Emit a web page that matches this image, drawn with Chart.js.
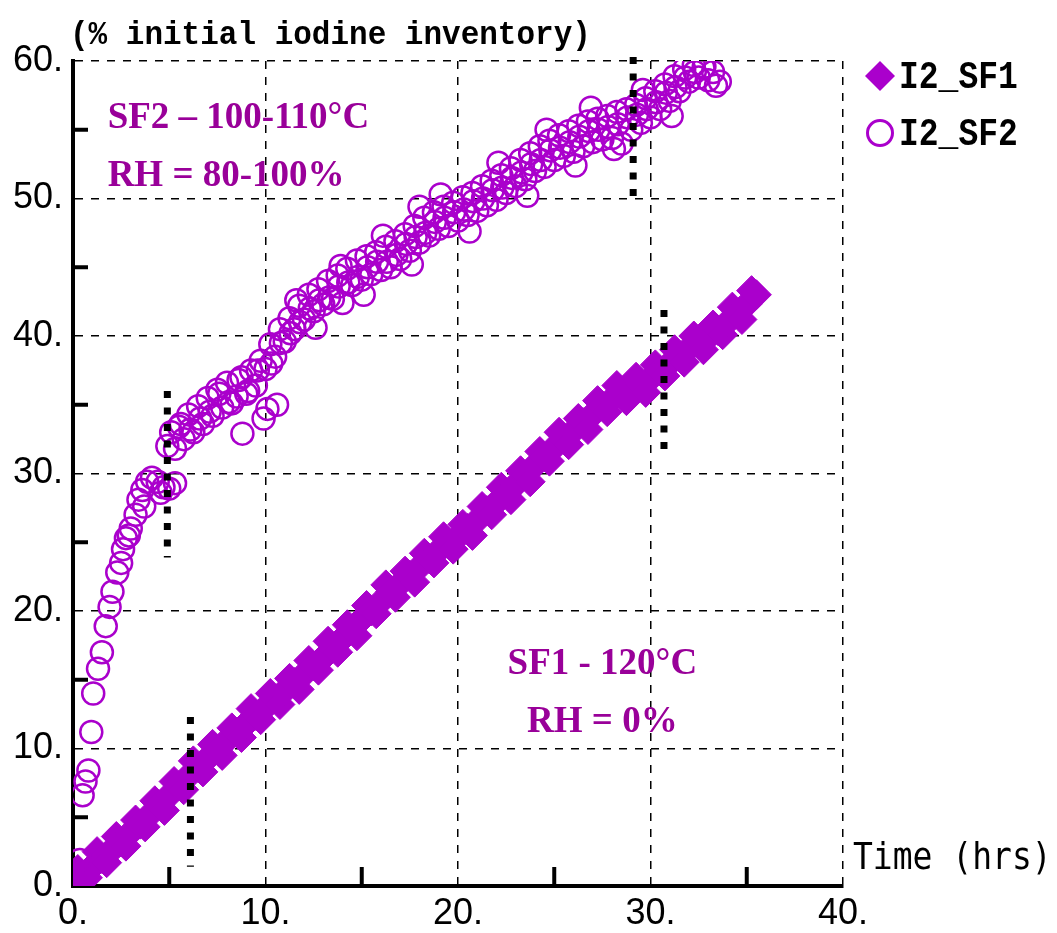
<!DOCTYPE html>
<html><head><meta charset="utf-8">
<script src="https://cdn.jsdelivr.net/npm/chart.js@4.4.1/dist/chart.umd.min.js"></script>
<style>html,body{margin:0;padding:0;background:#fff}#wrap{width:1057px;height:933px;position:relative}</style>
</head><body><div id="wrap"><canvas id="c"></canvas></div>
<script>
// ---------- data ----------
const yAxisTitle = '(% initial iodine inventory)';
const xAxisTitle = 'Time (hrs)';
const seriesNames = ['I2_SF1', 'I2_SF2'];
const xTickValues = [0, 10, 20, 30, 40];
const xTickLabels = ['0.', '10.', '20.', '30.', '40.'];
const yTickValues = [0, 10, 20, 30, 40, 50, 60];
const yTickLabels = ['0.', '10.', '20.', '30.', '40.', '50.', '60.'];

const sf1Time = [0,0.25,0.5,0.75,1,1.25,1.5,1.75,2,2.25,2.5,2.75,3,3.25,3.5,3.75,4,4.25,4.5,4.75,5,5.25,5.5,5.75,6,6.25,6.5,6.75,7,7.25,7.5,7.75,8,8.25,8.5,8.75,9,9.25,9.5,9.75,10,10.25,10.5,10.75,11,11.25,11.5,11.75,12,12.25,12.5,12.75,13,13.25,13.5,13.75,14,14.25,14.5,14.75,15,15.25,15.5,15.75,16,16.25,16.5,16.75,17,17.25,17.5,17.75,18,18.25,18.5,18.75,19,19.25,19.5,19.75,20,20.25,20.5,20.75,21,21.25,21.5,21.75,22,22.25,22.5,22.75,23,23.25,23.5,23.75,24,24.25,24.5,24.75,25,25.25,25.5,25.75,26,26.25,26.5,26.75,27,27.25,27.5,27.75,28,28.25,28.5,28.75,29,29.25,29.5,29.75,30,30.25,30.5,30.75,31,31.25,31.5,31.75,32,32.25,32.5,32.75,33,33.25,33.5,33.75,34,34.25,34.5,34.75,35,35.25,35.5];
const sf1Value = [0.3,1.2,0.8,0.6,1.4,2.5,2.0,1.7,2.6,3.6,3.2,2.9,3.9,4.8,4.5,4.3,5.2,6.2,5.9,5.5,6.6,7.6,7.3,7.0,8.0,9.1,8.6,8.3,9.3,10.3,9.9,9.5,10.6,11.5,11.2,10.8,11.8,12.9,12.4,12.1,13.0,14.0,13.6,13.2,14.2,15.1,14.8,14.3,15.4,16.4,16.0,15.7,16.6,17.8,17.3,17.0,18.0,19.0,18.7,18.2,19.4,20.4,20.0,19.8,20.7,21.9,21.4,21.0,22.0,22.9,22.6,22.1,23.2,24.2,23.8,23.5,24.4,25.4,24.9,24.5,25.4,26.3,26.0,25.5,26.6,27.6,27.3,27.0,27.9,29.0,28.5,28.1,29.2,30.2,29.9,29.4,30.6,31.6,31.2,30.9,31.9,33.0,32.5,32.1,33.1,34.0,33.7,33.2,34.3,35.3,34.9,34.5,35.4,36.4,35.9,35.3,36.2,37.0,36.5,35.9,36.9,37.9,37.5,37.1,38.0,39.0,38.5,38.1,39.1,40.0,39.7,39.0,39.9,40.8,40.4,40.1,41.0,42.1,41.6,41.2,42.3,43.3,43.0];

const sf2Time = [0.35,0.5,0.65,0.8,0.95,1.05,1.3,1.5,1.7,1.9,2.05,2.3,2.5,2.6,2.75,2.9,3.0,3.25,3.4,3.6,3.7,3.85,4.1,4.4,4.55,4.7,5.0,5.3,
  4.9,5.1,5.3,5.5,5.75,6.0,6.25,6.5,6.75,7.0,7.25,7.5,7.75,8.0,8.25,8.5,8.8,8.75,9.0,9.25,9.5,9.75,9.9,10.0,10.1,10.25,10.5,10.6,10.75,11.0,11.25,11.5,11.75,12.0,12.25,12.5,12.75,13.0,13.25,13.5,13.75,14.0,14.25,14.5,14.75,15.0,15.25,15.5,15.75,16.0,16.25,16.5,16.75,17.0,17.25,17.5,17.75,18.0,18.0,18.25,18.5,18.75,19.0,19.25,19.5,19.75,20.0,20.25,20.5,20.75,21.0,21.25,21.5,21.75,22.0,22.25,22.5,22.75,23.0,23.25,23.5,23.75,24.0,24.25,24.5,24.75,25.0,25.25,25.5,25.75,26.0,26.25,26.5,26.75,27.0,27.25,27.5,27.75,28.0,28.25,28.5,28.75,29.0,29.25,29.5,29.75,30.0,30.25,30.5,30.75,31.0,31.25,31.5,31.75,32.0,32.25,32.5,32.75,33.0,33.25,33.6,
  5.6,6.1,6.6,7.1,7.6,8.1,8.6,9.1,9.6,10.3,10.8,11.3,11.8,12.3,12.8,13.3,13.8,14.3,14.8,15.3,15.8,16.3,16.8,17.3,17.8,18.3,18.8,19.3,19.8,20.3,20.8,21.3,21.8,22.3,22.8,23.3,23.8,24.3,24.8,25.3,25.8,26.3,26.8,27.3,27.8,28.3,28.8,29.3,29.8,30.3,30.8,31.3,31.8,32.3,32.8,33.4,
  11.6,13.9,16.1,19.1,22.1,24.6,26.9,29.6,12.6,15.1,17.6,20.6,23.6,26.1,28.1,31.1];
const sf2Value = [1.9,6.6,7.6,8.4,11.2,14.0,15.8,17.0,18.9,20.3,21.4,22.8,23.5,24.5,25.3,25.5,26.0,27.0,28.1,28.8,27.6,29.4,29.7,29.4,28.6,29.0,28.9,29.3,
  32.0,33.0,31.8,33.4,32.5,34.3,33.0,34.9,33.6,35.5,34.2,36.1,34.8,36.6,35.1,35.6,32.9,37.0,35.8,37.5,36.4,38.2,34.0,37.6,34.7,39.4,38.5,35.0,40.5,39.6,41.3,40.5,42.2,41.2,43.0,41.8,43.4,42.3,44.0,42.7,44.4,42.4,44.9,43.7,45.5,44.1,45.8,44.5,46.1,44.8,46.5,45.0,46.9,45.6,47.4,46.2,48.0,46.8,49.4,48.6,47.3,49.0,47.8,49.4,48.0,49.7,48.4,50.1,48.8,50.4,49.1,50.9,49.5,51.3,49.9,51.7,50.4,52.2,50.9,52.8,51.4,53.3,52.0,53.8,52.3,54.2,52.8,54.6,53.1,54.9,53.4,55.3,53.8,55.6,54.1,55.8,54.3,56.0,54.4,56.3,54.0,56.5,55.0,56.8,55.5,57.3,55.9,57.8,56.5,58.3,57.1,58.9,57.8,59.4,58.5,59.7,58.8,59.5,58.6,59.2,58.5,
  33.6,33.2,34.0,34.5,35.8,35.2,36.8,36.0,37.5,38.0,39.5,40.2,41.0,42.0,42.6,42.8,43.6,43.9,44.3,45.0,45.4,45.4,45.9,46.7,47.2,47.5,48.3,48.6,49.0,49.2,49.8,50.0,50.6,50.8,51.5,51.9,52.5,52.8,53.5,53.7,54.1,54.5,54.9,55.0,55.2,55.4,55.9,56.1,56.5,57.0,57.7,58.1,58.8,59.2,59.6,58.2,
  42.6,45.1,47.3,50.3,52.6,55.0,56.6,57.9,40.6,43.0,45.2,47.6,50.2,52.4,53.6,56.0];

const dividerTime = [4.9, 6.1, 29.1, 30.7];
const dividerHigh = [36.0, 12.3, 60.3, 41.9];
const dividerLow = [23.9, 1.4, 49.7, 31.2];

const noteText = ['SF2 \u2013 100-110\u00B0C', 'RH = 80-100%', 'SF1 - 120\u00B0C', 'RH = 0%'];
const noteTime = [1.8, 1.8, 27.5, 27.5];
const noteValue = [55.85, 51.6, 16.15, 11.9];
const noteAlign = ['left', 'left', 'center', 'center'];

// ---------- styles ----------
const PURPLE = '#AA00CC';
const NOTE = '#990099';

function pts(t, v) { return t.map((x, i) => ({x: x, y: v[i]})); }

const datasets = [];
dividerTime.forEach((t, i) => {
  datasets.push({
    type: 'line', label: 'div' + i,
    data: [{x: t, y: dividerHigh[i]}, {x: t, y: dividerLow[i]}],
    borderColor: '#000', borderWidth: 7, borderDash: [7, 9.5], borderCapStyle: 'butt',
    pointRadius: 0, showLine: true, clip: false, order: 0
  });
});
datasets.push({
  label: seriesNames[0], data: pts(sf1Time, sf1Value),
  pointStyle: 'rectRot', pointRadius: 15, backgroundColor: PURPLE, borderColor: PURPLE, borderWidth: 1,
  showLine: false, order: 2
});
datasets.push({
  label: seriesNames[1], data: pts(sf2Time, sf2Value),
  pointStyle: 'circle', pointRadius: 11, backgroundColor: 'rgba(0,0,0,0)', borderColor: PURPLE, borderWidth: 2.5,
  showLine: false, order: 1
});

function txt(ctx, s, x, y, font, color, align, baseline, sy) {
  ctx.save();
  ctx.font = font; ctx.fillStyle = color; ctx.textAlign = align; ctx.textBaseline = baseline;
  ctx.translate(x, y); ctx.scale(1, sy || 1); ctx.fillText(s, 0, 0);
  ctx.restore();
}

const decor = {
  id: 'decor',
  afterDatasetsDraw(chart) {
    const ctx = chart.ctx, xs = chart.scales.x, ys = chart.scales.y, a = chart.chartArea;
    ctx.save();
    ctx.strokeStyle = '#000'; ctx.lineWidth = 4; ctx.lineCap = 'butt';
    xs.ticks.forEach(t => {
      if (xTickValues.indexOf(t.value) < 0) {
        const px = xs.getPixelForValue(t.value);
        ctx.beginPath(); ctx.moveTo(px, a.bottom); ctx.lineTo(px, a.bottom - 19); ctx.stroke();
      }
    });
    ys.ticks.forEach(t => {
      if (yTickValues.indexOf(t.value) < 0) {
        const py = ys.getPixelForValue(t.value);
        ctx.beginPath(); ctx.moveTo(a.left, py); ctx.lineTo(a.left + 15, py); ctx.stroke();
      }
    });
    ctx.restore();
  },
  afterDraw(chart) {
    const ctx = chart.ctx, xs = chart.scales.x, ys = chart.scales.y, a = chart.chartArea;
    txt(ctx, yAxisTitle, a.left - 3, 44, 'bold 31px "Liberation Mono", monospace', '#000', 'left', 'alphabetic', 1.1);
    txt(ctx, xAxisTitle, a.right + 10, 869, '33px "DejaVu Sans Mono", monospace', '#000', 'left', 'alphabetic', 1.12);
    noteText.forEach((s, i) => {
      txt(ctx, s, xs.getPixelForValue(noteTime[i]), ys.getPixelForValue(noteValue[i]),
        'bold 37px "Liberation Serif", "Times New Roman", serif', NOTE, noteAlign[i], 'middle', 1);
    });
    const ds = chart.data.datasets.filter(d => seriesNames.indexOf(d.label) >= 0);
    const lx = a.right + 37, rows = [76, 133];
    ds.forEach((d, i) => {
      const cy = rows[i];
      ctx.save();
      if (d.pointStyle === 'rectRot') {
        ctx.fillStyle = d.backgroundColor;
        ctx.beginPath(); ctx.moveTo(lx, cy - 15); ctx.lineTo(lx + 15, cy); ctx.lineTo(lx, cy + 15); ctx.lineTo(lx - 15, cy); ctx.closePath(); ctx.fill();
      } else {
        ctx.strokeStyle = d.borderColor; ctx.lineWidth = 3;
        ctx.beginPath(); ctx.arc(lx, cy, 12.5, 0, Math.PI * 2); ctx.stroke();
      }
      ctx.restore();
      txt(ctx, d.label, lx + 19, cy + 12, 'bold 33px "Liberation Mono", monospace', '#000', 'left', 'alphabetic', 1.2);
    });
  }
};

const gridColor = (vals) => (c) => (c.tick && vals.indexOf(c.tick.value) >= 0 && c.tick.value !== 0) ? '#000' : 'rgba(0,0,0,0)';

new Chart(document.getElementById('c'), {
  type: 'scatter',
  data: {datasets: datasets},
  plugins: [decor],
  options: {
    responsive: true, maintainAspectRatio: false, animation: false, events: [],
    layout: {padding: {left: 0, right: 214, top: 61, bottom: 0}},
    plugins: {legend: {display: false}, tooltip: {enabled: false}},
    scales: {
      x: {
        type: 'linear', min: 0, max: 40,
        afterFit: (s) => { s.height = 47; },
        ticks: {stepSize: 5, autoSkip: false, maxRotation: 0, padding: 6, color: '#000',
          font: {family: '"Liberation Sans", Arial, sans-serif', size: 36},
          callback: (v) => { const i = xTickValues.indexOf(v); return i >= 0 ? xTickLabels[i] : ''; }},
        grid: {color: gridColor(xTickValues), lineWidth: 1.5, drawTicks: false},
        border: {display: true, color: '#000', width: 4, dash: [8, 8]}
      },
      y: {
        type: 'linear', min: 0, max: 60,
        afterFit: (s) => { s.width = 73; },
        ticks: {stepSize: 5, autoSkip: false, padding: 10, color: '#000',
          font: {family: '"Liberation Sans", Arial, sans-serif', size: 36},
          callback: (v) => { const i = yTickValues.indexOf(v); return i >= 0 ? yTickLabels[i] : ''; }},
        grid: {color: gridColor(yTickValues), lineWidth: 1.5, drawTicks: false},
        border: {display: true, color: '#000', width: 4, dash: [8, 8]}
      }
    }
  }
});
</script>
</body></html>
